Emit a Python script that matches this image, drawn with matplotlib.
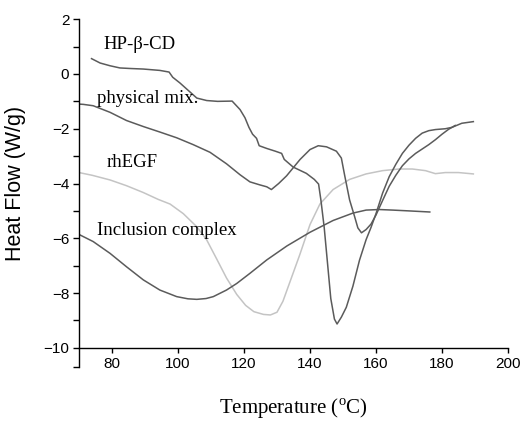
import matplotlib
matplotlib.use("Agg")
import matplotlib.pyplot as plt

plt.rcParams['font.family'] = ['Liberation Sans', 'DejaVu Sans']
plt.rcParams['mathtext.fontset'] = 'custom'
plt.rcParams['mathtext.rm'] = 'Liberation Serif'

# DSC traces (temperature in C, heat flow in W/g)
hp_t = [73.8, 76.4, 79.4, 82.4, 85.5, 89.5, 94.5, 97.3, 98.4, 100.6, 103.1, 105.7, 108.7,
        112.0, 116.4, 118.8, 120.3, 121.5, 122.6, 123.8, 124.6, 126.9, 129.5, 131.4, 132.2,
        134.9, 138.9, 141.3, 142.6, 143.3, 144.3, 145.3, 146.3, 147.4, 148.2, 149.5, 151.0,
        153.0, 155.0, 157.0, 158.5, 160.0, 162.0, 164.0, 166.0, 168.0, 170.0, 172.0, 174.0,
        176.0, 178.0, 181.0, 183.0, 186.0, 189.5]
hp_q = [0.56, 0.40, 0.30, 0.22, 0.20, 0.18, 0.13, 0.07, -0.12, -0.33, -0.60, -0.88, -0.97,
        -1.00, -0.99, -1.30, -1.60, -1.95, -2.20, -2.35, -2.62, -2.72, -2.82, -2.90, -3.12,
        -3.40, -3.63, -3.85, -4.02, -4.60, -5.60, -6.90, -8.20, -8.95, -9.13, -8.88, -8.52,
        -7.75, -6.80, -6.05, -5.60, -5.10, -4.35, -3.75, -3.30, -2.90, -2.60, -2.35, -2.16,
        -2.07, -2.03, -2.00, -1.95, -1.80, -1.74]

mix_t = [70.0, 71.3, 74.3, 79.4, 84.4, 89.5, 94.5, 99.6, 104.6, 109.7, 114.7, 118.8, 121.8,
         124.8, 126.9, 128.3, 130.5, 132.9, 137.0, 140.0, 142.5, 145.0, 148.0, 149.5, 150.5,
         152.0, 153.5, 154.5, 155.6, 157.0, 158.5, 160.0, 162.0, 164.0, 166.0, 168.0, 170.0,
         172.0, 174.0, 176.0, 178.0, 180.0, 182.0, 184.0]
mix_q = [-1.10, -1.11, -1.16, -1.40, -1.70, -1.92, -2.12, -2.33, -2.58, -2.86, -3.28, -3.68,
         -3.94, -4.05, -4.12, -4.22, -4.00, -3.72, -3.12, -2.76, -2.62, -2.66, -2.82, -3.07,
         -3.70, -4.60, -5.20, -5.62, -5.80, -5.68, -5.48, -5.15, -4.62, -4.10, -3.70, -3.35,
         -3.10, -2.90, -2.74, -2.58, -2.40, -2.20, -2.02, -1.88]

egf_t = [70.0, 74.0, 79.4, 84.4, 89.5, 94.0, 97.6, 101.6, 105.7, 108.7, 111.7, 114.7, 117.8,
         120.5, 123.0, 125.9, 128.0, 130.0, 131.8, 133.9, 136.9, 140.0, 143.0, 147.0, 152.0,
         157.0, 162.0, 167.0, 171.0, 175.0, 178.0, 181.0, 185.0, 189.5]
egf_q = [-3.60, -3.70, -3.87, -4.08, -4.33, -4.58, -4.75, -5.10, -5.58, -6.06, -6.75, -7.45,
         -8.05, -8.45, -8.68, -8.78, -8.80, -8.70, -8.30, -7.60, -6.60, -5.50, -4.75, -4.22,
         -3.85, -3.65, -3.53, -3.47, -3.47, -3.53, -3.64, -3.60, -3.60, -3.65]

inc_t = [70.0, 74.3, 79.4, 84.4, 89.5, 94.5, 99.6, 103.0, 105.7, 108.5, 110.7, 114.7, 117.8,
         121.8, 126.9, 133.0, 140.0, 147.0, 153.0, 157.0, 161.0, 165.0, 170.0, 176.3]
inc_q = [-5.86, -6.12, -6.55, -7.04, -7.52, -7.89, -8.13, -8.21, -8.23, -8.20, -8.13, -7.89,
         -7.65, -7.28, -6.79, -6.28, -5.78, -5.35, -5.08, -4.97, -4.95, -4.97, -5.00, -5.04]

labels = ['HP-\u03b2-CD', 'physical mix.', 'rhEGF', 'Inclusion complex']
label_xy = [(77.3, 1.06), (75.5, -0.91), (78.5, -3.25), (75.5, -5.73)]

dark = '#5b5b5b'
light = '#c4c4c4'

fig = plt.figure(figsize=(5.31, 4.22), dpi=100)
ax = fig.add_axes([79 / 531, 1 - 367 / 422, 429 / 531, (367 - 19.2) / 422])

ax.plot(egf_t, egf_q, color=light, lw=1.1)
ax.plot(inc_t, inc_q, color=dark, lw=1.1)
ax.plot(mix_t, mix_q, color=dark, lw=1.1)
ax.plot(hp_t, hp_q, color=dark, lw=1.1)

for txt, (x, y) in zip(labels, label_xy):
    ax.text(x, y, txt, family='Liberation Serif', fontsize=13.5, ha='left', va='center')

ax.set_xlim(70, 200)
ax.set_ylim(-10.7, 2)
ax.spines['top'].set_visible(False)
ax.spines['right'].set_visible(False)
ax.spines['bottom'].set_position(('data', -10))
for s in ('left', 'bottom'):
    ax.spines[s].set_linewidth(1.0)

ax.set_xticks(range(80, 201, 20))
ax.set_yticks(range(-10, 3, 2))
ax.set_yticks(list(range(-9, 2, 2)) + [-10.7], minor=True)
ax.tick_params(axis='both', which='both', direction='out', width=1.0, labelsize=11)
ax.tick_params(axis='x', length=3.6, pad=3)
ax.tick_params(axis='y', which='both', length=4, pad=3)

ax.set_ylabel('Heat Flow (W/g)', fontsize=15.5)
ax.yaxis.set_label_coords(-0.124, 0.5276)
ax.set_xlabel(r'Temperature ($^{\mathrm{o}}$C)', family='Liberation Serif', fontsize=15)
ax.xaxis.set_label_coords(0.5, -0.085)

fig.savefig('out.png', dpi=100)
